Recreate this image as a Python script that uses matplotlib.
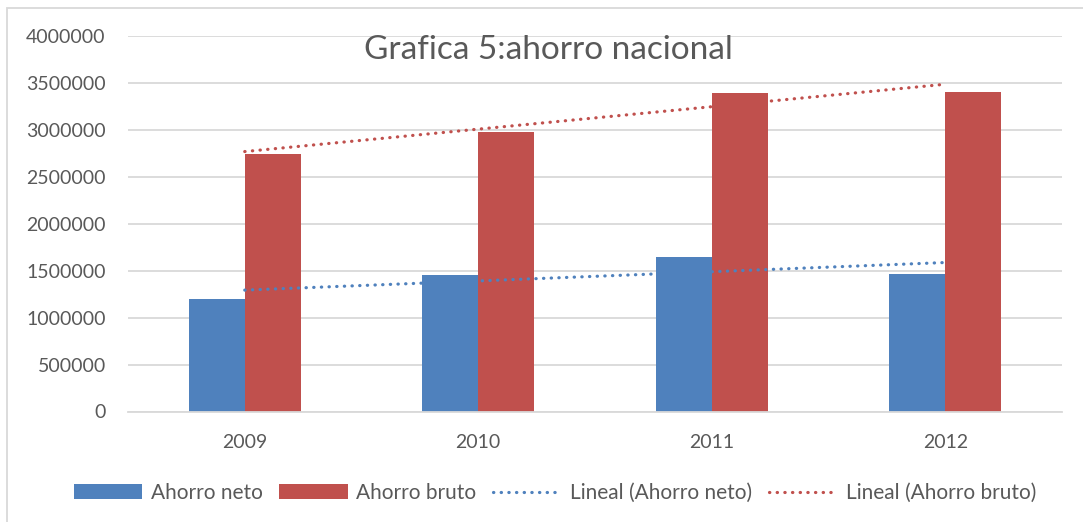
import numpy as np
import matplotlib.pyplot as plt
from matplotlib.patches import Rectangle

plt.rcParams['font.family'] = ['Lato', 'DejaVu Sans']

years = ['2009', '2010', '2011', '2012']
ahorro_neto = [1200000, 1450000, 1650000, 1460000]
ahorro_bruto = [2740000, 2980000, 3390000, 3400000]

blue = '#4F81BD'
red = '#C0504D'
gray = '#595959'
grid = '#D9D9D9'

fig = plt.figure(figsize=(10.83, 5.22), dpi=100)
ax = fig.add_axes([128/1083, 1 - 411.5/522, 934/1083, 375.5/522])

x = np.arange(len(years))
w = 0.24
b1 = ax.bar(x - w/2, ahorro_neto, w, color=blue, label='Ahorro neto', zorder=2)
b2 = ax.bar(x + w/2, ahorro_bruto, w, color=red, label='Ahorro bruto', zorder=2)

# linear trendlines (Excel "Lineal")
xs = x + 1
trends = []
for vals, col, name in [(ahorro_neto, blue, 'Lineal (Ahorro neto)'),
                        (ahorro_bruto, red, 'Lineal (Ahorro bruto)')]:
    m, b = np.polyfit(xs, vals, 1)
    ln, = ax.plot(x, m * xs + b, color=col, lw=2.3, linestyle=(0, (0.1, 2.3)),
                  dash_capstyle='round', label=name, zorder=3)
    trends.append(ln)

ax.set_xlim(-0.5, 3.5)
ax.set_ylim(0, 4000000)
ax.set_yticks(np.arange(0, 4000001, 500000))
ax.set_yticklabels([str(v) for v in range(0, 4000001, 500000)])
ax.set_xticks(x)
ax.set_xticklabels(years)
ax.tick_params(length=0, labelsize=14, labelcolor=gray)
ax.tick_params(axis='y', pad=16)
ax.tick_params(axis='x', pad=16)
ax.yaxis.grid(True, color=grid, lw=1.3, zorder=0)
for s in ['top', 'right', 'left']:
    ax.spines[s].set_visible(False)
ax.spines['bottom'].set_color(grid)
ax.spines['bottom'].set_linewidth(1.3)

fig.text(548/1083, 1 - 50/522, 'Grafica 5:ahorro nacional', ha='center', va='center',
         fontsize=24, color=gray)

fig.legend([b1, b2] + trends,
           ['Ahorro neto', 'Ahorro bruto', 'Lineal (Ahorro neto)', 'Lineal (Ahorro bruto)'],
           loc='center', bbox_to_anchor=(555/1083, 1 - 493/522), ncol=4, frameon=False,
           fontsize=15, labelcolor=gray, handlelength=3.3, handleheight=0.7,
           handletextpad=0.4, columnspacing=0.8)

fig.patches.append(Rectangle((7/1083, -0.1), 1.2, 1.1 - 8/522, transform=fig.transFigure,
                             fill=False, edgecolor=grid, lw=1.3))

fig.savefig('out.png', dpi=100)
